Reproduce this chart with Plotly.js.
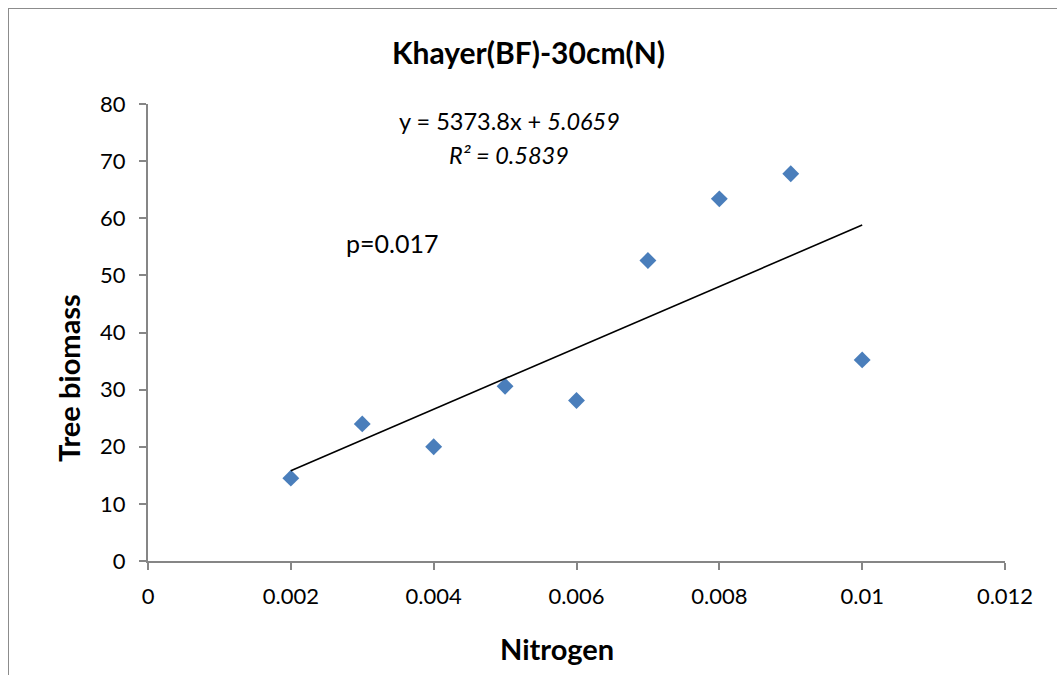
<!DOCTYPE html>
<html>
<head>
<meta charset="utf-8">
<script src="https://cdn.plot.ly/plotly-3.0.1.min.js"></script>
<style>
html,body{margin:0;padding:0;background:#fff;}
#wrap{position:relative;width:1057px;height:675px;overflow:hidden;}
#chart{width:1057px;height:675px;}
#frame{position:absolute;left:8px;top:8px;width:1100px;height:700px;border-left:1.5px solid #8c8c8c;border-top:1.5px solid #8c8c8c;pointer-events:none;}
</style>
</head>
<body>
<div id="wrap"><div id="chart"></div><div id="frame"></div></div>
<script>
const nitrogen = [0.002, 0.003, 0.004, 0.005, 0.006, 0.007, 0.008, 0.009, 0.010];
const biomass = [14.5, 24.0, 20.0, 30.6, 28.1, 52.6, 63.4, 67.8, 35.2];
const slope = 5373.8;
const intercept = 5.0659;
const xTicks = [0, 0.002, 0.004, 0.006, 0.008, 0.010, 0.012];
const xTickLabels = ["0", "0.002", "0.004", "0.006", "0.008", "0.01", "0.012"];
const yTicks = [0, 10, 20, 30, 40, 50, 60, 70, 80];

const xMin = Math.min(...nitrogen), xMax = Math.max(...nitrogen);
const trendX = [xMin, xMax];
const trendY = trendX.map(x => slope * x + intercept);

const font = "Lato, 'Open Sans', sans-serif";

// plot-area geometry helpers (pixels -> paper fractions)
const L = 148, R = 52, T = 104, B = 114, W = 1057, H = 675;
const pw = W - L - R, ph = H - T - B;
const px = x => (x - L) / pw;
const py = y => (H - B - y) / ph;

const data = [
  {x: nitrogen, y: biomass, type: 'scatter', mode: 'markers',
   marker: {symbol: 'diamond', size: 13, color: '#4a7ebb', line: {width: 0}}},
  {x: trendX, y: trendY, type: 'scatter', mode: 'lines',
   line: {color: '#000', width: 1.6}}
];

const axisCommon = {
  showgrid: false, zeroline: false, showline: true, linecolor: '#868686', linewidth: 2,
  ticks: 'outside', ticklen: 7, tickwidth: 2, tickcolor: '#868686',
  tickfont: {family: font, size: 22, color: '#000'}
};

const layout = {
  width: W, height: H,
  margin: {l: L, r: R, t: T, b: B},
  paper_bgcolor: '#fff', plot_bgcolor: '#fff',
  showlegend: false,
  title: {text: '<b>Khayer(BF)-30cm(N)</b>', font: {family: font, size: 30, color: '#000'},
          x: 0.5, xref: 'container', xanchor: 'center', y: 1 - 53/675, yanchor: 'middle'},
  xaxis: Object.assign({}, axisCommon, {
    range: [0, 0.012], tickvals: xTicks, ticktext: xTickLabels, ticklabelstandoff: 8
  }),
  yaxis: Object.assign({}, axisCommon, {
    range: [0, 80], tickvals: yTicks, ticklabelstandoff: 9
  }),
  annotations: [
    {xref: 'paper', yref: 'paper', x: px(557), y: py(648), xanchor: 'center', yanchor: 'middle',
     text: '<b>Nitrogen</b>', showarrow: false, font: {family: font, size: 29, color: '#000'}},
    {xref: 'paper', yref: 'paper', x: px(68), y: py(378), xanchor: 'center', yanchor: 'middle',
     textangle: -90, text: '<b>Tree biomass</b>', showarrow: false, font: {family: font, size: 29, color: '#000'}},
    {xref: 'paper', yref: 'paper', x: px(509), y: py(121), xanchor: 'center', yanchor: 'middle',
     text: 'y = ' + slope + 'x + <i>' + intercept + '</i>', showarrow: false,
     font: {family: font, size: 23.5, color: '#000'}},
    {xref: 'paper', yref: 'paper', x: px(509), y: py(155), xanchor: 'center', yanchor: 'middle',
     text: '<i>R² = 0.5839</i>', showarrow: false,
     font: {family: font, size: 23.5, color: '#000'}},
    {xref: 'paper', yref: 'paper', x: px(344), y: py(243), xanchor: 'left', yanchor: 'middle',
     text: 'p=0.017', showarrow: false,
     font: {family: font, size: 25, color: '#000'}}
  ]
};

Plotly.newPlot('chart', data, layout, {displayModeBar: false, staticPlot: true});
</script>
</body>
</html>
